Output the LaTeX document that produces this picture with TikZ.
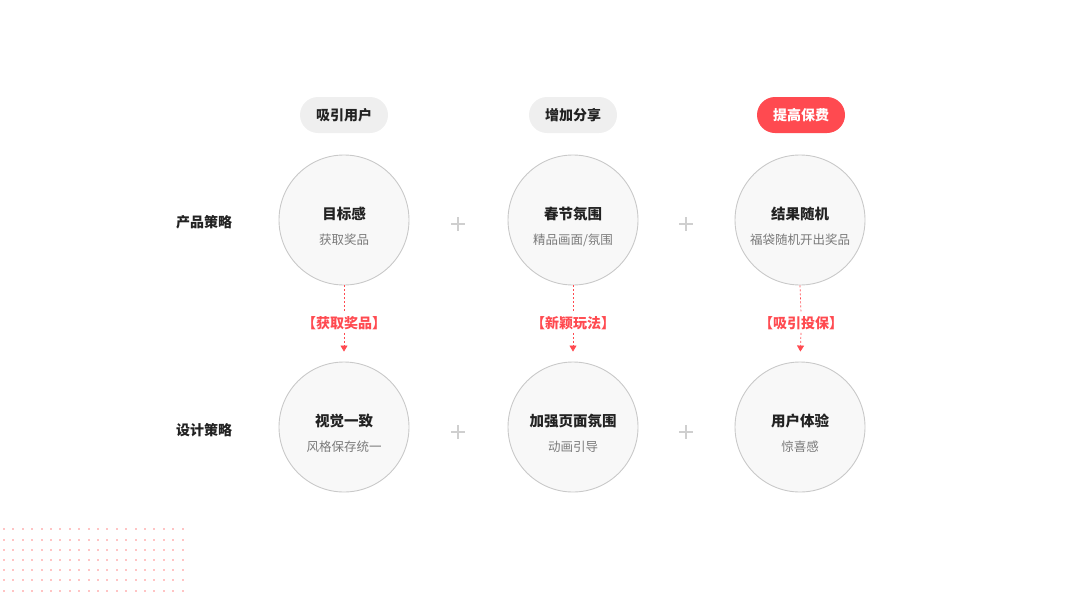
\documentclass[tikz,border=0pt]{standalone}
\usepackage{fontspec}
\setmainfont{Noto Sans CJK SC}
\usetikzlibrary{arrows.meta}

\definecolor{accent}{HTML}{FF4A50}
\definecolor{ringgray}{HTML}{C9C9C9}
\definecolor{bubblefill}{HTML}{F8F8F8}
\definecolor{pillfill}{HTML}{EFEFEF}
\definecolor{inkdark}{HTML}{222222}
\definecolor{inkgray}{HTML}{7A7A7A}
\definecolor{plusgray}{HTML}{CFCFCF}
\definecolor{dotpink}{HTML}{FFC4C4}

\begin{document}
\begin{tikzpicture}[x=1pt,y=-1pt,
  bubble/.style={circle,draw=ringgray,fill=bubblefill,line width=0.9pt,minimum size=130pt,inner sep=0pt},
  pill/.style={rectangle,rounded corners=18pt,fill=pillfill,minimum width=88pt,minimum height=36pt,
    text=inkdark,font=\fontsize{14}{16}\selectfont\bfseries},
  hotpill/.style={pill,fill=accent,text=white},
  title/.style={text=inkdark,font=\fontsize{14.5}{16}\selectfont\bfseries},
  sub/.style={text=inkgray,font=\fontsize{12.5}{14}\selectfont},
  rowlabel/.style={text=inkdark,font=\fontsize{14}{16}\selectfont\bfseries},
  tag/.style={text=accent,font=\fontsize{14}{16}\selectfont\bfseries,inner sep=3pt},
  link/.style={accent,line width=0.7pt,dash pattern=on 2pt off 2pt},
  plus/.style={plusgray,line width=1.6pt}]

\useasboundingbox (0,0) rectangle (1067,600);

% Dot pattern
\foreach \i in {0,...,19}
  \foreach \j in {0,...,6}
    \fill[dotpink] (4+9.4*\i-1,529.3+10.2*\j-1) rectangle ++(2,2);

% Column headers
\node[pill] (h1) at (344,115) {吸引用户};
\node[pill] (h2) at (573,115) {增加分享};
\node[hotpill] (h3) at (801,115) {提高保费};

% Row labels
\node[rowlabel] (r1) at (204,222) {产品策略};
\node[rowlabel] (r2) at (204,430) {设计策略};

% Product circles
\node[bubble] (p1) at (344,220) {};
\node[title] (p1t) at (344,214) {目标感};
\node[sub] (p1s) at (344,240) {获取奖品};

\node[bubble] (p2) at (573,220) {};
\node[title] (p2t) at (573,214) {春节氛围};
\node[sub] (p2s) at (573,240) {精品画面/氛围};

\node[bubble] (p3) at (800,220) {};
\node[title] (p3t) at (800,214) {结果随机};
\node[sub] (p3s) at (800,240) {福袋随机开出奖品};

% Design circles
\node[bubble] (d1) at (344,427) {};
\node[title] (d1t) at (344,421) {视觉一致};
\node[sub] (d1s) at (344,447) {风格保存统一};

\node[bubble] (d2) at (573,427) {};
\node[title] (d2t) at (573,421) {加强页面氛围};
\node[sub] (d2s) at (573,447) {动画引导};

\node[bubble] (d3) at (800,427) {};
\node[title] (d3t) at (800,421) {用户体验};
\node[sub] (d3s) at (800,447) {惊喜感};

% Links
\node[tag] (m1) at (344,323) {【获取奖品】};
\node[tag] (m2) at (573,323) {【新颖玩法】};
\node[tag] (m3) at (801,323) {【吸引投保】};

\foreach \k in {1,2,3} {
  \draw[link] (p\k.south) -- (m\k.north);
  \draw[link,-{Triangle[width=7pt,length=6pt]},shorten >=10pt] (m\k.south) -- (d\k.north);
}

% Plus signs
\foreach \x in {458,686}
  \foreach \y in {224,432} {
    \draw[plus] (\x-7,\y) -- (\x+7,\y);
    \draw[plus] (\x,\y-7) -- (\x,\y+7);
  }

\end{tikzpicture}
\end{document}
